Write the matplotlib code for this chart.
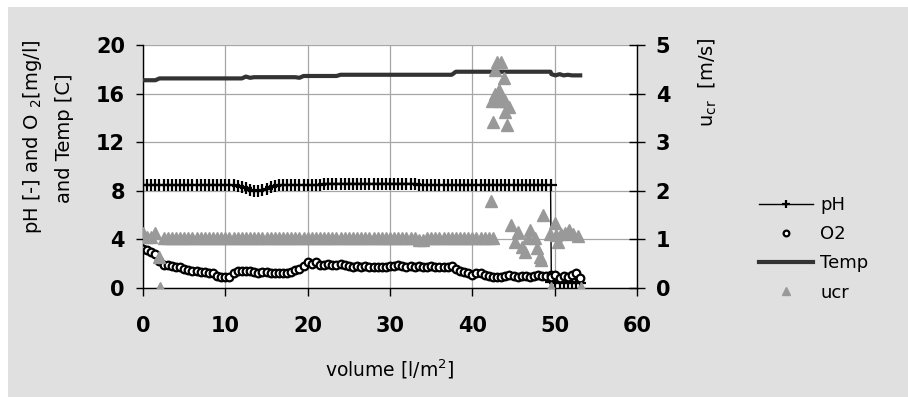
import matplotlib
matplotlib.use("Agg")
import matplotlib.pyplot as plt
from matplotlib.patches import Rectangle

# ---------------- data ----------------
volume = [0.0, 0.5, 1.0, 1.5, 2.0, 2.5, 3.0, 3.5, 4.0, 4.5,
          5.0, 5.5, 6.0, 6.5, 7.0, 7.5, 8.0, 8.5, 9.0, 9.5,
          10.0, 10.5, 11.0, 11.5, 12.0, 12.5, 13.0, 13.5, 14.0, 14.5,
          15.0, 15.5, 16.0, 16.5, 17.0, 17.5, 18.0, 18.5, 19.0, 19.5,
          20.0, 20.5, 21.0, 21.5, 22.0, 22.5, 23.0, 23.5, 24.0, 24.5,
          25.0, 25.5, 26.0, 26.5, 27.0, 27.5, 28.0, 28.5, 29.0, 29.5,
          30.0, 30.5, 31.0, 31.5, 32.0, 32.5, 33.0, 33.5, 34.0, 34.5,
          35.0, 35.5, 36.0, 36.5, 37.0, 37.5, 38.0, 38.5, 39.0, 39.5,
          40.0, 40.5, 41.0, 41.5, 42.0, 42.5, 43.0, 43.5, 44.0, 44.5,
          45.0, 45.5, 46.0, 46.5, 47.0, 47.5, 48.0, 48.5, 49.0, 49.5,
          49.6, 50.1, 50.6, 51.1, 51.6, 52.1, 52.6, 53.1]

ph = [8.5, 8.5, 8.5, 8.5, 8.5, 8.5, 8.5, 8.5, 8.5, 8.5,
      8.5, 8.5, 8.5, 8.5, 8.5, 8.5, 8.5, 8.5, 8.5, 8.5,
      8.5, 8.5, 8.5, 8.4, 8.3, 8.2, 8.1, 8.0, 8.0, 8.05,
      8.15, 8.3, 8.4, 8.5, 8.5, 8.5, 8.5, 8.5, 8.5, 8.5,
      8.5, 8.5, 8.5, 8.5, 8.6, 8.6, 8.6, 8.6, 8.6, 8.6,
      8.6, 8.6, 8.6, 8.6, 8.6, 8.6, 8.6, 8.6, 8.6, 8.6,
      8.6, 8.6, 8.6, 8.6, 8.6, 8.6, 8.6, 8.5, 8.5, 8.5,
      8.5, 8.5, 8.5, 8.5, 8.5, 8.5, 8.5, 8.5, 8.5, 8.5,
      8.5, 8.5, 8.5, 8.5, 8.5, 8.5, 8.5, 8.5, 8.5, 8.5,
      8.5, 8.5, 8.5, 8.5, 8.5, 8.5, 8.5, 8.5, 8.5, 8.5,
      0.5, 0.4, 0.5, 0.4, 0.5, 0.4, 0.5, 0.4]

o2 = [3.2, 3.1, 3.0, 2.8, 2.2, 1.9, 1.9, 1.8, 1.7, 1.7,
      1.6, 1.5, 1.4, 1.4, 1.3, 1.3, 1.2, 1.2, 1.0, 0.9,
      0.9, 0.9, 1.2, 1.4, 1.4, 1.4, 1.4, 1.3, 1.2, 1.3,
      1.3, 1.2, 1.2, 1.2, 1.2, 1.2, 1.3, 1.5, 1.6, 1.8,
      2.1, 2.0, 2.1, 1.9, 1.9, 2.0, 1.9, 1.9, 2.0, 1.9,
      1.8, 1.7, 1.8, 1.7, 1.8, 1.7, 1.7, 1.7, 1.7, 1.7,
      1.8, 1.8, 1.9, 1.8, 1.7, 1.8, 1.7, 1.8, 1.7, 1.7,
      1.8, 1.7, 1.7, 1.7, 1.7, 1.8, 1.6, 1.4, 1.3, 1.2,
      1.1, 1.2, 1.2, 1.1, 1.0, 0.9, 0.9, 0.9, 1.0, 1.1,
      1.0, 0.9, 1.0, 1.0, 0.9, 1.0, 1.1, 1.0, 1.0, 1.1,
      0.9, 1.1, 0.8, 1.0, 0.9, 1.1, 1.2, 0.8]

temp = [17.1, 17.1, 17.1, 17.1, 17.25, 17.25, 17.25, 17.25, 17.25, 17.25,
        17.25, 17.25, 17.25, 17.25, 17.25, 17.25, 17.25, 17.25, 17.25, 17.25,
        17.25, 17.25, 17.25, 17.25, 17.25, 17.4, 17.3, 17.35, 17.35, 17.35,
        17.35, 17.35, 17.35, 17.35, 17.35, 17.35, 17.35, 17.35, 17.3, 17.45,
        17.45, 17.45, 17.45, 17.45, 17.45, 17.45, 17.45, 17.45, 17.55, 17.55,
        17.55, 17.55, 17.55, 17.55, 17.55, 17.55, 17.55, 17.55, 17.55, 17.55,
        17.55, 17.55, 17.55, 17.55, 17.55, 17.55, 17.55, 17.55, 17.55, 17.55,
        17.55, 17.55, 17.55, 17.55, 17.55, 17.55, 17.8, 17.8, 17.8, 17.8,
        17.8, 17.8, 17.8, 17.8, 17.8, 17.8, 17.8, 17.8, 17.8, 17.8,
        17.8, 17.8, 17.8, 17.8, 17.8, 17.8, 17.8, 17.8, 17.8, 17.8,
        17.6, 17.5, 17.6, 17.5, 17.55, 17.5, 17.5, 17.5]

ucr_volume = [0.0, 0.5, 1.0, 1.5, 2.0, 2.1, 2.5, 3.0, 3.5, 4.0, 4.5,
              5.0, 5.5, 6.0, 6.5, 7.0, 7.5, 8.0, 8.5, 9.0, 9.5,
              10.0, 10.5, 11.0, 11.5, 12.0, 12.5, 13.0, 13.5, 14.0, 14.5,
              15.0, 15.5, 16.0, 16.5, 17.0, 17.5, 18.0, 18.5, 19.0, 19.5,
              20.0, 20.5, 21.0, 21.5, 22.0, 22.5, 23.0, 23.5, 24.0, 24.5,
              25.0, 25.5, 26.0, 26.5, 27.0, 27.5, 28.0, 28.5, 29.0, 29.5,
              30.0, 30.5, 31.0, 31.5, 32.0, 32.5, 33.0, 33.5, 34.0, 34.5,
              35.0, 35.5, 36.0, 36.5, 37.0, 37.5, 38.0, 38.5, 39.0, 39.5,
              40.0, 40.5, 41.0, 41.5, 42.0, 42.5,
              42.3, 42.5, 42.7, 43.0, 43.5, 43.9, 42.7, 43.2, 43.5, 42.9,
              44.0, 42.4, 43.3, 44.5, 44.0, 44.2,
              44.7, 45.2, 45.5, 46.0, 46.4, 46.8, 47.0, 47.6, 47.8, 48.2,
              48.4, 48.6, 49.4, 49.6, 50.0, 50.2, 50.4, 50.8, 51.2, 51.8,
              52.2, 52.8, 53.2]

ucr = [1.13, 1.05, 1.05, 1.13, 0.64, 0.0, 1.03, 1.02, 1.02, 1.02, 1.02,
       1.02, 1.02, 1.02, 1.02, 1.02, 1.02, 1.02, 1.02, 1.02, 1.02,
       1.02, 1.02, 1.02, 1.02, 1.02, 1.02, 1.02, 1.02, 1.02, 1.02,
       1.02, 1.02, 1.02, 1.02, 1.02, 1.02, 1.02, 1.02, 1.02, 1.02,
       1.02, 1.02, 1.02, 1.02, 1.02, 1.02, 1.02, 1.02, 1.02, 1.02,
       1.02, 1.02, 1.02, 1.02, 1.02, 1.02, 1.02, 1.02, 1.02, 1.02,
       1.02, 1.02, 1.02, 1.02, 1.02, 1.02, 1.02, 0.99, 0.99, 1.02,
       1.02, 1.02, 1.02, 1.02, 1.02, 1.02, 1.02, 1.02, 1.02, 1.02,
       1.02, 1.02, 1.02, 1.02, 1.02, 1.02,
       1.78, 3.42, 4.49, 4.65, 4.65, 4.32, 4.0, 4.08, 3.95, 3.9,
       3.85, 3.85, 3.85, 3.72, 3.62, 3.35,
       1.30, 0.95, 1.16, 0.85, 0.75, 1.02, 1.19, 1.03, 0.82, 0.64,
       0.58, 1.50, 1.12, 0.0, 1.33, 1.09, 0.95, 1.12, 1.13, 1.19,
       1.12, 1.06, 0.0]

x_ticks = [0, 10, 20, 30, 40, 50, 60]
y_ticks = [0, 4, 8, 12, 16, 20]
y2_ticks = [0, 1, 2, 3, 4, 5]

series_labels = ["pH", "O2", "Temp", "ucr"]

# ---------------- figure ----------------
W, H = 908, 397
fig = plt.figure(figsize=(W / 100, H / 100), dpi=100)
fig.patch.set_facecolor("white")
fig.add_artist(Rectangle((8 / W, 0), 1, 1 - 7 / H, transform=fig.transFigure,
                         facecolor="#e0e0e0", edgecolor="none", zorder=-10))

ax = fig.add_axes([143 / W, 1 - 288 / H, (637 - 143) / W, (288 - 45) / H])
ax.set_facecolor("white")

l_ph, = ax.plot(volume, ph, color="black", lw=1.0, marker="+", ms=8.5, mew=1.6,
                label=series_labels[0], zorder=3)
l_o2, = ax.plot(volume, o2, ls="none", marker="o", ms=5.5, mfc="white",
                mec="black", mew=1.6, label=series_labels[1], zorder=4)
l_temp, = ax.plot(volume, temp, color="#333333", lw=3.0,
                  label=series_labels[2], zorder=3)

ax.set_xlim(0, 60)
ax.set_ylim(0, 20)
ax.set_xticks(x_ticks, [str(t) for t in x_ticks], fontweight="bold", fontsize=15)
ax.set_yticks(y_ticks, [str(t) for t in y_ticks], fontweight="bold", fontsize=15)
ax.grid(True, color="#a6a6a6", lw=0.9)
ax.set_axisbelow(True)
ax.tick_params(axis="y", direction="out", length=5, width=1, pad=8)
ax.tick_params(axis="x", direction="out", length=6, width=1, pad=14)
ax.spines["top"].set_visible(False)
ax.spines["right"].set_visible(False)
for s in ("left", "bottom"):
    ax.spines[s].set_color("black")
    ax.spines[s].set_linewidth(1.0)

ax2 = ax.twinx()
l_ucr, = ax2.plot(ucr_volume, ucr, ls="none", marker="^", ms=8,
                  color="#999999", label=series_labels[3], zorder=2)
ax2.set_ylim(0, 5)
ax2.set_yticks(y2_ticks, [str(t) for t in y2_ticks], fontweight="bold", fontsize=15)
ax2.tick_params(axis="y", direction="inout", length=11, width=1, pad=8)
for s in ("top", "left", "bottom"):
    ax2.spines[s].set_visible(False)
ax2.spines["right"].set_color("black")
ax2.spines["right"].set_linewidth(1.0)

# axis titles
fig.text(390 / W, 1 - 369 / H, "volume [l/m$^{\\mathregular{2}}$]", ha="center",
         va="center", fontsize=13.5)
fig.text(33 / W, 1 - 137 / H, "pH [-] and O $_{\\mathregular{2}}$[mg/l]", rotation=90,
         ha="center", va="center", fontsize=14)
fig.text(65 / W, 1 - 138 / H, "and Temp [C]", rotation=90,
         ha="center", va="center", fontsize=14)
fig.text(708 / W, 1 - 82 / H, "u$_{\\mathregular{cr}}$  [m/s]", rotation=90,
         ha="center", va="center", fontsize=14)

fig.legend(handles=[l_ph, l_o2, l_temp, l_ucr], labels=series_labels,
           loc="upper left", bbox_to_anchor=(759 / W, 1 - 196 / H),
           frameon=False, fontsize=13, handlelength=3, handletextpad=0.4,
           labelspacing=0.62, borderpad=0, borderaxespad=0, markerscale=0.75)

fig.savefig("out.png", dpi=100, facecolor=fig.get_facecolor())
